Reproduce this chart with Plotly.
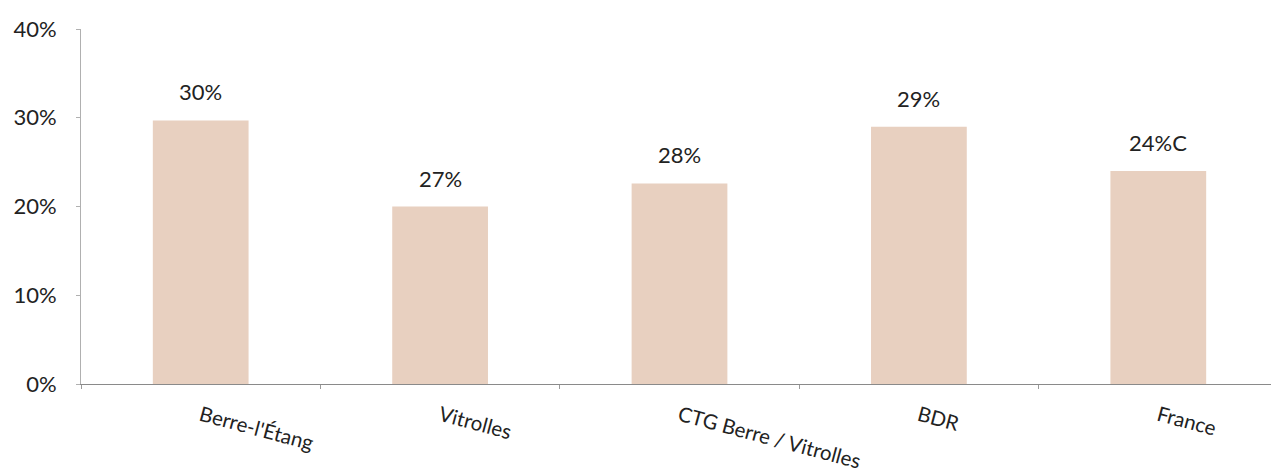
import plotly.graph_objects as go

categories = ["Berre-l'Étang", "Vitrolles", "CTG Berre / Vitrolles", "BDR", "France"]
bar_values = [0.297, 0.200, 0.226, 0.290, 0.240]
value_labels = ["30%", "27%", "28%", "29%", "24%C"]
y_ticks = [0, 0.1, 0.2, 0.3, 0.4]
y_tick_labels = ["0%", "10%", "20%", "30%", "40%"]

FONT = "Lato, 'Open Sans', sans-serif"
TEXT = "#222222"

fig = go.Figure()
fig.add_trace(go.Bar(
    x=categories, y=bar_values, width=0.4,
    marker=dict(color="#E8D0C0", line=dict(width=0)),
    hoverinfo="skip", showlegend=False,
))

annotations = []
for c, v, lab in zip(categories, bar_values, value_labels):
    annotations.append(dict(x=c, y=v, xref="x", yref="y", text=lab, showarrow=False,
                            yanchor="bottom", yshift=13,
                            font=dict(family=FONT, size=22, color=TEXT)))

fig.update_layout(
    width=1271, height=467,
    margin=dict(l=73, r=1, t=21, b=91, autoexpand=False),
    paper_bgcolor="white", plot_bgcolor="white",
    bargap=0.6,
    annotations=annotations,
    xaxis=dict(showline=True, linecolor="#8a8a8a", linewidth=1,
               ticks="outside", tickson="boundaries", ticklen=4, tickcolor="#9a9a9a",
               tickangle=15, ticklabelstandoff=11,
               tickfont=dict(family=FONT, size=20.5, color=TEXT),
               showgrid=False, zeroline=False, fixedrange=True, automargin=False),
    yaxis=dict(range=[0, 0.4], tickvals=y_ticks, ticktext=y_tick_labels,
               showline=True, linecolor="#b0b0b0", linewidth=1,
               ticks="outside", ticklen=4, tickcolor="#b0b0b0",
               ticklabelstandoff=15, automargin=False,
               tickfont=dict(family=FONT, size=22, color=TEXT),
               showgrid=False, zeroline=False, fixedrange=True),
)

fig.write_html("out.html")
